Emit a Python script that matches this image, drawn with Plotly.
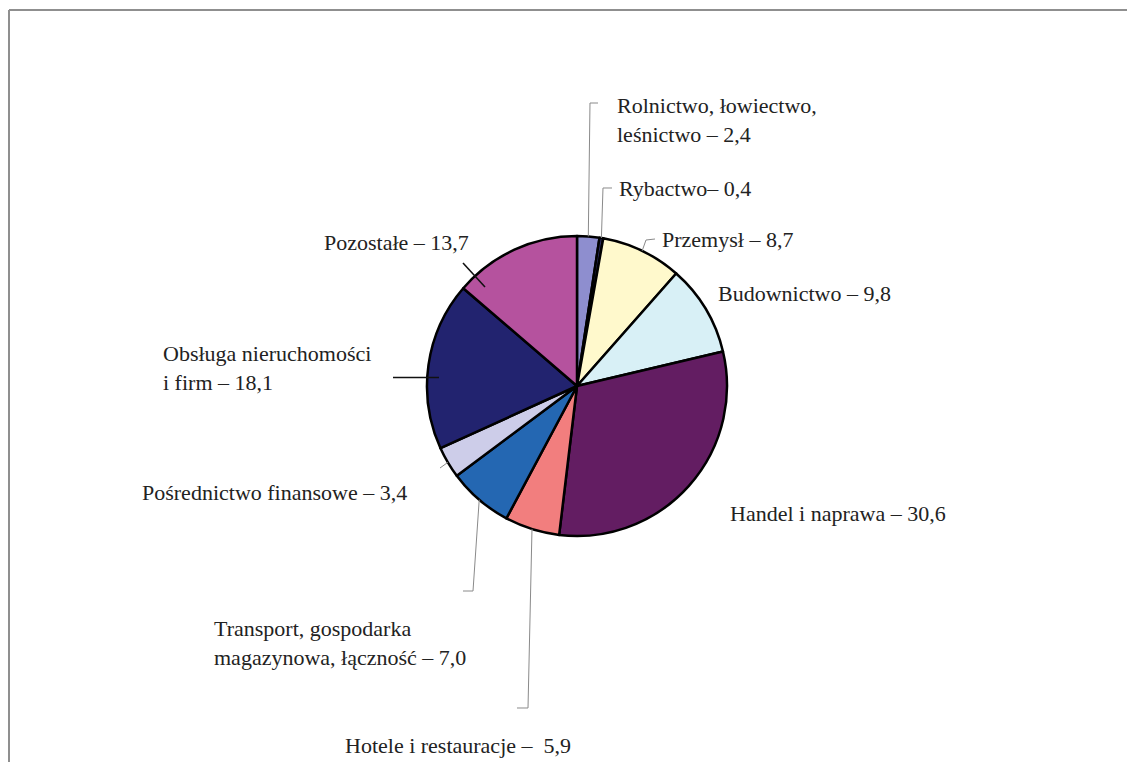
import math
import plotly.graph_objects as go

# ---- data ----
categories = [
    "Rolnictwo, łowiectwo, leśnictwo", "Rybactwo", "Przemysł", "Budownictwo",
    "Handel i naprawa", "Hotele i restauracje",
    "Transport, gospodarka magazynowa, łączność", "Pośrednictwo finansowe",
    "Obsługa nieruchomości i firm", "Pozostałe",
]
values = [2.4, 0.4, 8.7, 9.8, 30.6, 5.9, 7.0, 3.4, 18.1, 13.7]
label_texts = [
    "Rolnictwo, łowiectwo,<br>leśnictwo – 2,4",
    "Rybactwo– 0,4",
    "Przemysł – 8,7",
    "Budownictwo – 9,8",
    "Handel i naprawa – 30,6",
    "Hotele i restauracje –  5,9",
    "Transport, gospodarka<br>magazynowa, łączność – 7,0",
    "Pośrednictwo finansowe – 3,4",
    "Obsługa nieruchomości<br>i firm – 18,1",
    "Pozostałe – 13,7",
]
colors = ["#8E8ECF", "#2E2E62", "#FFF9CC", "#D8F0F6", "#631D62", "#F27E7E",
          "#2467B2", "#CDCDE9", "#22236F", "#B5529E"]

W, H = 1135, 762
OFF = 8  # page body margin
CX, CY, R = 577, 386, 150
FONT = "Times New Roman, Liberation Serif, serif"


def px(x):
    return (x - OFF) / W


def py(y):
    return 1 - (y - OFF) / H


fig = go.Figure()
fig.add_trace(go.Pie(
    labels=categories, values=values, sort=False, direction="clockwise",
    rotation=0, textinfo="none", hoverinfo="label+value",
    marker=dict(colors=colors, line=dict(color="black", width=2.5)),
    domain=dict(x=[px(CX - R), px(CX + R)], y=[py(CY + R), py(CY - R)]),
    showlegend=False,
))

# slice mid-points on the rim (clockwise from 12 o'clock), derived from data
total = sum(values)
mid_pts = []
cum = 0
for v in values:
    a = 2 * math.pi * (cum + v / 2) / total
    mid_pts.append((CX + R * math.sin(a), CY - R * math.cos(a)))
    cum += v

# label positions (layout): x, y
label_pos = [
    (615, 120), (617, 188), (660, 239), (716, 293), (728, 513),
    (343, 745), (212, 643), (140, 492), (161, 368), (322, 242),
]
for t, (x, y) in zip(label_texts, label_pos):
    fig.add_annotation(x=px(x), y=py(y), xref="paper", yref="paper", text=t,
                       showarrow=False, xanchor="left", yanchor="middle",
                       align="left",
                       font=dict(family=FONT, size=22, color="#222222"))


def path(pts):
    s = "M %f,%f" % (px(pts[0][0]), py(pts[0][1]))
    for p in pts[1:]:
        s += " L %f,%f" % (px(p[0]), py(p[1]))
    return s


gray = dict(color="#8a8a8a", width=1)
blk = dict(color="#111111", width=1.6)
leaders = [
    (0, [(590, 103), (598, 103)], gray),
    (1, [(603, 188), (612, 188)], gray),
    (2, [(646, 240), (655, 239)], gray),
    (5, [(528, 708), (517, 708)], gray),
    (6, [(473, 591), (463, 591)], gray),
    (7, [(440, 468)], gray),
]
for idx, pts, ln in leaders:
    fig.add_shape(type="path", xref="paper", yref="paper",
                  path=path([mid_pts[idx]] + pts), line=ln)

fig.add_shape(type="line", xref="paper", yref="paper",
              x0=px(393), y0=py(377.5), x1=px(439), y1=py(377.5), line=blk)
fig.add_shape(type="line", xref="paper", yref="paper",
              x0=px(463), y0=py(263), x1=px(485), y1=py(287), line=blk)

# frame border (only top and left edges are visible)
border = dict(color="#8f8f8f", width=2)
fig.add_shape(type="line", xref="paper", yref="paper",
              x0=px(9), y0=py(10), x1=1.0, y1=py(10), line=border)
fig.add_shape(type="line", xref="paper", yref="paper",
              x0=px(9), y0=py(10), x1=px(9), y1=0.0, line=border)

fig.update_layout(width=W, height=H, margin=dict(l=0, r=0, t=0, b=0),
                  paper_bgcolor="white", plot_bgcolor="white")
fig.write_html("out.html")
